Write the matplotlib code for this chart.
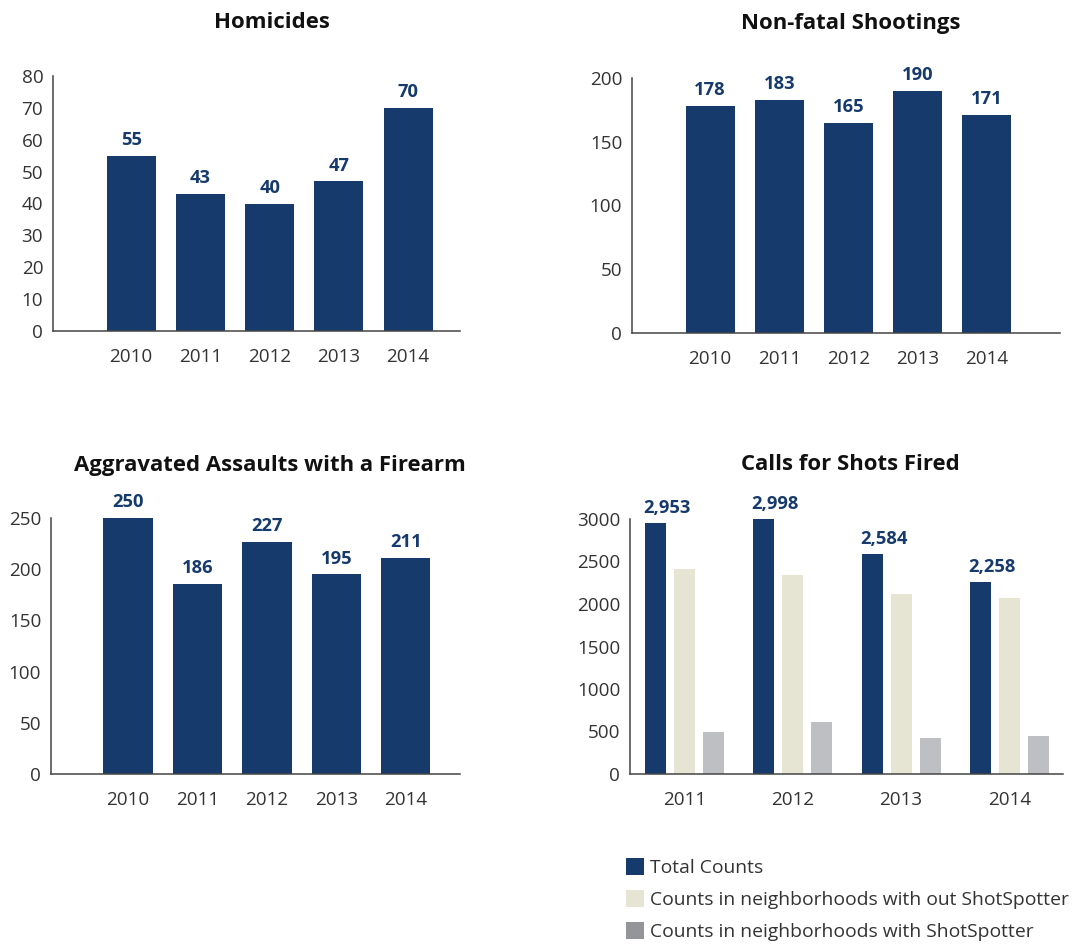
import matplotlib
matplotlib.use("Agg")
import matplotlib.pyplot as plt
from matplotlib.patches import Patch
import numpy as np

plt.rcParams['font.family'] = ['Open Sans', 'DejaVu Sans']

# ---- data ----
years_5 = ["2010", "2011", "2012", "2013", "2014"]
homicides = [55, 43, 40, 47, 70]
nonfatal_shootings = [178, 183, 165, 190, 171]
agg_assaults = [250, 186, 227, 195, 211]

years_4 = ["2011", "2012", "2013", "2014"]
shots_total = [2953, 2998, 2584, 2258]
shots_without_ss = [2414, 2343, 2119, 2072]
shots_with_ss = [492, 610, 421, 445]

legend_labels = ["Total Counts",
                 "Counts in neighborhoods with out ShotSpotter",
                 "Counts in neighborhoods with ShotSpotter"]

# ---- style ----
NAVY = "#163a6b"
BEIGE = "#e6e5d3"
LIGHT_GRAY = "#bebfc3"
LEGEND_GRAY = "#939598"
AXIS = "#444444"
TICK_TXT = "#333333"

W, H = 1081, 944
fig = plt.figure(figsize=(W / 100, H / 100), dpi=100)
fig.patch.set_facecolor("white")


def px_axes(left, right, top, bottom):
    return fig.add_axes([left / W, (H - bottom) / H, (right - left) / W, (bottom - top) / H])


def style_axes(ax):
    for s in ("top", "right"):
        ax.spines[s].set_visible(False)
    for s in ("left", "bottom"):
        ax.spines[s].set_color(AXIS)
        ax.spines[s].set_linewidth(1.1)
    ax.tick_params(axis="y", length=0, pad=7, labelsize=13.6, labelcolor=TICK_TXT)
    ax.tick_params(axis="x", length=0, pad=12.5, labelsize=13.6, labelcolor=TICK_TXT)
    ax.set_facecolor("white")


def title_px(text, xc, yc):
    fig.text(xc / W, 1 - yc / H, text, ha="center", va="center",
             fontsize=15.9, fontweight="bold", color="#111111")


def single_panel(ax, values, ymax, step, xlim):
    x = np.arange(len(years_5))
    ax.bar(x, values, width=0.71, color=NAVY)
    ax.set_xlim(*xlim)
    ax.set_ylim(0, ymax)
    ax.set_yticks(np.arange(0, ymax + 1, step))
    ax.set_xticks(x)
    ax.set_xticklabels(years_5)
    style_axes(ax)
    off = ymax * 0.026
    for xi, v in zip(x, values):
        ax.text(xi, v + off, str(v), ha="center", va="bottom", fontsize=13.2,
                fontweight="bold", color=NAVY, clip_on=False)


# Homicides
ax1 = px_axes(53, 460, 76, 331)
single_panel(ax1, homicides, 80, 10, (-1.13, 4.75))
title_px("Homicides", 272, 22)

# Non-fatal shootings
ax2 = px_axes(632, 1060, 78, 333)
single_panel(ax2, nonfatal_shootings, 200, 50, (-1.13, 5.06))
title_px("Non-fatal Shootings", 851, 24)

# Aggravated assaults
ax3 = px_axes(51, 460, 518, 774)
single_panel(ax3, agg_assaults, 250, 50, (-1.11, 4.78))
title_px("Aggravated Assaults with a Firearm", 270, 465)

# Calls for shots fired
ax4 = px_axes(630, 1063, 519, 774)
g = np.arange(len(years_4))
bw = 0.194
off = 0.268
ax4.bar(g - off, shots_total, width=bw, color=NAVY)
ax4.bar(g, shots_without_ss, width=bw, color=BEIGE)
ax4.bar(g + off, shots_with_ss, width=bw, color=LIGHT_GRAY)
ax4.set_xlim(-0.505, 3.495)
ax4.set_ylim(0, 3000)
ax4.set_yticks(np.arange(0, 3001, 500))
ax4.set_xticks(g)
ax4.set_xticklabels(years_4)
style_axes(ax4)
for gi, v in zip(g, shots_total):
    ax4.text(gi - off - bw / 2 - 0.015, v + 75, f"{v:,}", ha="left", va="bottom",
             fontsize=13.2, fontweight="bold", color=NAVY, clip_on=False)
title_px("Calls for Shots Fired", 850, 464)

# Legend
handles = [Patch(facecolor=c, edgecolor="none") for c in (NAVY, BEIGE, LEGEND_GRAY)]
fig.legend(handles, legend_labels, loc="upper left",
           bbox_to_anchor=(626 / W, 1 - 858 / H), frameon=False,
           fontsize=13.9, handlelength=0.95, handleheight=0.95,
           handletextpad=0.3, labelspacing=0.68, labelcolor=TICK_TXT,
           borderaxespad=0, borderpad=0)

fig.savefig("out.png", dpi=100)
